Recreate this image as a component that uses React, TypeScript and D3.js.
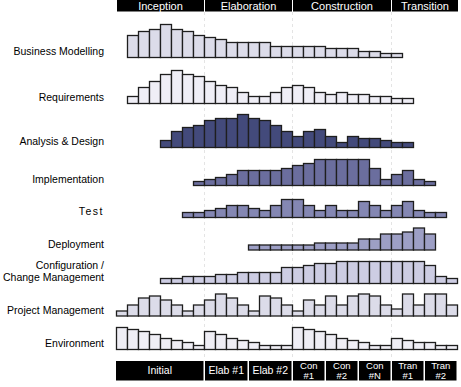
import React from 'react';
import * as d3 from 'd3';

// phases (top header) and iterations (bottom header), spans in bar slots
const phases = ['Inception', 'Elaboration', 'Construction', 'Transition'];
const phaseSpans = [8, 8, 9, 6];
const iterations = ['Initial', 'Elab #1', 'Elab #2', 'Con\n#1', 'Con\n#2', 'Con\n#N', 'Tran\n#1', 'Tran\n#2'];
const iterationSpans = [8, 4, 4, 3, 3, 3, 3, 3];

const disciplines = [
  'Business Modelling', 'Requirements', 'Analysis & Design', 'Implementation', 'Test',
  'Deployment', 'Configuration /\nChange Management', 'Project Management', 'Environment',
];

// first slot each discipline starts in
const starts = [1, 1, 4, 7, 6, 12, 4, 0, 0];

const businessModelling = [22, 26, 28, 33, 28, 26, 22, 20, 18, 15, 15, 15, 15, 11, 11, 11, 11, 11, 9, 9, 9, 6, 6, 4, 4];
const requirements = [7, 16, 22, 29, 33, 29, 27, 22, 18, 16, 11, 7, 7, 11, 16, 18, 16, 11, 9, 11, 9, 9, 7, 7, 5, 5];
const analysisDesign = [7, 16, 20, 22, 27, 29, 29, 33, 29, 27, 22, 16, 11, 16, 18, 11, 5, 11, 9, 9, 7, 5, 5];
const implementation = [4, 6, 8, 11, 15, 15, 15, 15, 17, 20, 22, 26, 26, 26, 26, 26, 17, 6, 11, 15, 6, 4];
const test = [5, 5, 7, 9, 12, 12, 9, 7, 12, 18, 18, 12, 7, 12, 7, 7, 16, 12, 7, 12, 16, 7, 5, 5];
const deployment = [5, 5, 5, 5, 5, 5, 7, 7, 7, 7, 11, 11, 16, 16, 18, 22, 16];
const configChange = [5, 5, 7, 7, 7, 9, 9, 11, 11, 11, 11, 16, 16, 18, 20, 20, 22, 22, 22, 22, 22, 22, 22, 22, 18, 7, 5];
const projectManagement = [5, 11, 18, 20, 16, 11, 5, 11, 16, 22, 18, 11, 5, 20, 18, 11, 5, 16, 11, 20, 11, 20, 22, 20, 11, 7, 22, 11, 22, 22, 11];
const environment = [22, 20, 18, 15, 11, 9, 7, 4, 18, 15, 11, 9, 7, 4, 4, 4, 22, 20, 18, 15, 11, 9, 7, 4, 4, 11, 9, 7, 7, 4, 4];

const series = [businessModelling, requirements, analysisDesign, implementation, test,
  deployment, configChange, projectManagement, environment];

const colors = ['#dcdce9', '#efeef6', '#434a7b', '#6b6e9e', '#8487b3', '#9d9fc5', '#cdcde3', '#dcdce9', '#efeef5'];
const baselines = [57.5, 103.5, 147.5, 185.5, 217.5, 250, 283.5, 316, 349.5];

const W = 461, H = 387;
const slots = d3.sum(phaseSpans);

export default function App() {
  const x = d3.scaleLinear().domain([0, slots]).range([116, 457]);
  const y = d3.scaleLinear().domain([0, 33]).range([0, 33]);

  const cum = (spans: number[]) => spans.map((_, i) => d3.sum(spans.slice(0, i)));
  const phaseStarts = cum(phaseSpans);
  const iterStarts = cum(iterationSpans);

  return (
    <svg width={W} height={H} style={{ position: 'absolute', left: 0, top: 0, background: '#fff' }}
      fontFamily="'Liberation Sans', Arial, sans-serif">
      {/* phase boundaries */}
      {phaseStarts.slice(1).map((s, i) => (
        <line key={'b' + i} x1={x(s) + 0.5} x2={x(s) + 0.5} y1={12} y2={360}
          stroke="#e4e4e4" strokeDasharray="3,3" />
      ))}

      {/* top phase header */}
      {phases.map((p, i) => {
        const x0 = x(phaseStarts[i]) + 1;
        const x1 = x(phaseStarts[i] + phaseSpans[i]) + (i === phases.length - 1 ? 1 : 0);
        return (
          <g key={p}>
            <rect x={x0} y={0} width={x1 - x0} height={11.5} fill="#000" />
            <text x={(x0 + x1) / 2} y={10} textAnchor="middle" fill="#fff" fontSize={11}>{p}</text>
          </g>
        );
      })}

      {/* discipline humps */}
      {series.map((vals, r) => (
        <g key={'r' + r}>
          {vals.map((v, j) => (
            <rect key={j} x={x(starts[r] + j) + 0.5} y={baselines[r] - y(v)} width={x(1) - x(0)} height={y(v)}
              fill={colors[r]} stroke="#1e1e1e" strokeWidth={1.3} />
          ))}
          {disciplines[r].split('\n').map((line, k, arr) => (
            <text key={'t' + k} x={104} y={baselines[r] - 2.5 - (arr.length - 1 - k) * 11.6}
              textAnchor="end" fontSize={10.5} fill="#000"
              letterSpacing={line === 'Test' ? 1.5 : 0}>{line}</text>
          ))}
        </g>
      ))}

      {/* bottom iteration header */}
      {iterations.map((it, i) => {
        const x0 = x(iterStarts[i]) + (i === 0 ? 0 : 1);
        const x1 = x(iterStarts[i] + iterationSpans[i]) - 0.5;
        const lines = it.split('\n');
        return (
          <g key={it}>
            <rect x={x0} y={361} width={x1 - x0} height={19.5} fill="#000" />
            {lines.map((l, k) => (
              <text key={k} x={(x0 + x1) / 2} y={lines.length === 1 ? 374 : 368.5 + k * 10}
                textAnchor="middle" fill="#fff" fontSize={lines.length === 1 ? 10.5 : 9.5}>{l}</text>
            ))}
          </g>
        );
      })}
    </svg>
  );
}
